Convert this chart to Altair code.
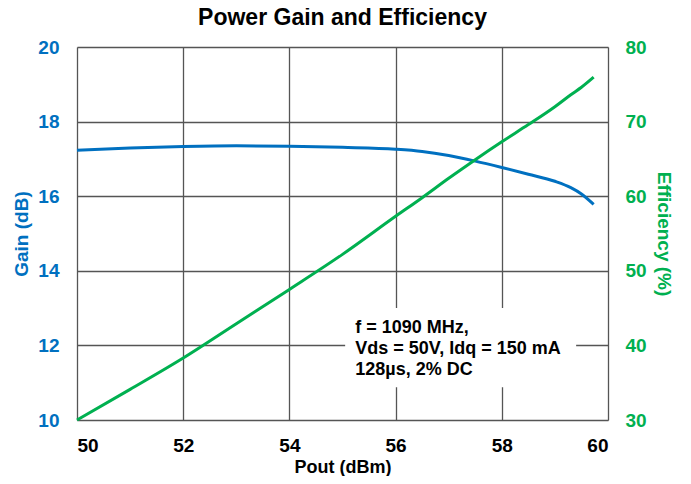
import altair as alt
import pandas as pd

pout = [50, 51, 52, 53, 54, 55, 56, 56.5, 57, 57.5, 58, 58.5, 59, 59.3, 59.5, 59.73]
gain = [17.23, 17.29, 17.33, 17.35, 17.34, 17.31, 17.26, 17.2, 17.09, 16.94, 16.77, 16.59, 16.4, 16.23, 16.06, 15.78]
eff = [30.0, 34.1, 38.3, 42.9, 47.5, 52.2, 57.3, 59.8, 62.4, 64.9, 67.3, 69.6, 72.0, 73.6, 74.6, 75.95]

note_lines = ["f = 1090 MHz,", "Vds = 50V, Idq = 150 mA", "128\u00b5s, 2% DC"]
note_x = [55.24, 55.24, 55.24]
note_y = [12.33, 11.78, 11.21]
box = {"x": [55.05], "x2": [59.4], "y": [13.0], "y2": [10.88]}

BLUE = "#0070C0"
GREEN = "#00B050"
FONT = "Liberation Sans"

df = pd.DataFrame({"pout": pout, "gain": gain, "eff": eff})
notes = pd.DataFrame({"x": note_x, "y": note_y, "t": note_lines})
boxdf = pd.DataFrame(box)

xenc = alt.X("pout:Q", scale=alt.Scale(domain=[50, 60], nice=False),
             axis=alt.Axis(values=[50, 52, 54, 56, 58, 60], title="Pout (dBm)",
                           labelFontSize=19, labelFontWeight="bold", labelColor="black",
                           titleFontSize=18, titleFontWeight="bold", titleColor="black",
                           labelPadding=16, titlePadding=3, ticks=False, domain=False,
                           grid=True, gridColor="#555555", gridWidth=1.3))

gain_scale = alt.Scale(domain=[10, 20], nice=False)
gain_axis = alt.Axis(values=[10, 12, 14, 16, 18, 20], title="Gain (dB)",
                     labelFontSize=19, labelFontWeight="bold", labelColor=BLUE,
                     titleFontSize=19, titleFontWeight="bold", titleColor=BLUE,
                     labelPadding=18, titlePadding=6, ticks=False, domain=False,
                     grid=True, gridColor="#555555", gridWidth=1.3)

rect = alt.Chart(boxdf).mark_rect(color="white").encode(
    x="x:Q", x2="x2:Q",
    y=alt.Y("y:Q", scale=gain_scale, axis=gain_axis), y2="y2:Q")

text = alt.Chart(notes).mark_text(align="left", baseline="alphabetic", fontSize=18,
                                  fontWeight="bold", font=FONT, color="black").encode(
    x="x:Q", y=alt.Y("y:Q", scale=gain_scale), text="t:N")

gline = alt.Chart(df).mark_line(color=BLUE, strokeWidth=3, interpolate="monotone").encode(
    x=xenc, y=alt.Y("gain:Q", scale=gain_scale, axis=gain_axis))

gain_layer = alt.layer(gline, rect, text)

eline = alt.Chart(df).mark_line(color=GREEN, strokeWidth=3, interpolate="monotone").encode(
    x=xenc,
    y=alt.Y("eff:Q", scale=alt.Scale(domain=[30, 80], nice=False),
            axis=alt.Axis(orient="right", values=[30, 40, 50, 60, 70, 80], title="Efficiency (%)",
                          labelFontSize=19, labelFontWeight="bold", labelColor=GREEN,
                          titleFontSize=19, titleFontWeight="bold", titleColor=GREEN,
                          labelPadding=17, titlePadding=7, ticks=False, domain=False, grid=False)))

chart = alt.layer(gain_layer, eline).resolve_scale(y="independent").properties(
    width=531, height=373,
    title=alt.Title("Power Gain and Efficiency", fontSize=23, font=FONT, fontWeight="bold",
                    color="black", offset=8),
    autosize=alt.AutoSizeParams(type="none"),
    padding={"left": 69, "top": 39, "right": 75, "bottom": 56},
).configure_view(stroke="black", strokeWidth=1.5).configure(font=FONT).configure_axis(
    labelFont=FONT, titleFont=FONT)

chart.save("out.html", embed_options={"renderer": "svg", "actions": False})
